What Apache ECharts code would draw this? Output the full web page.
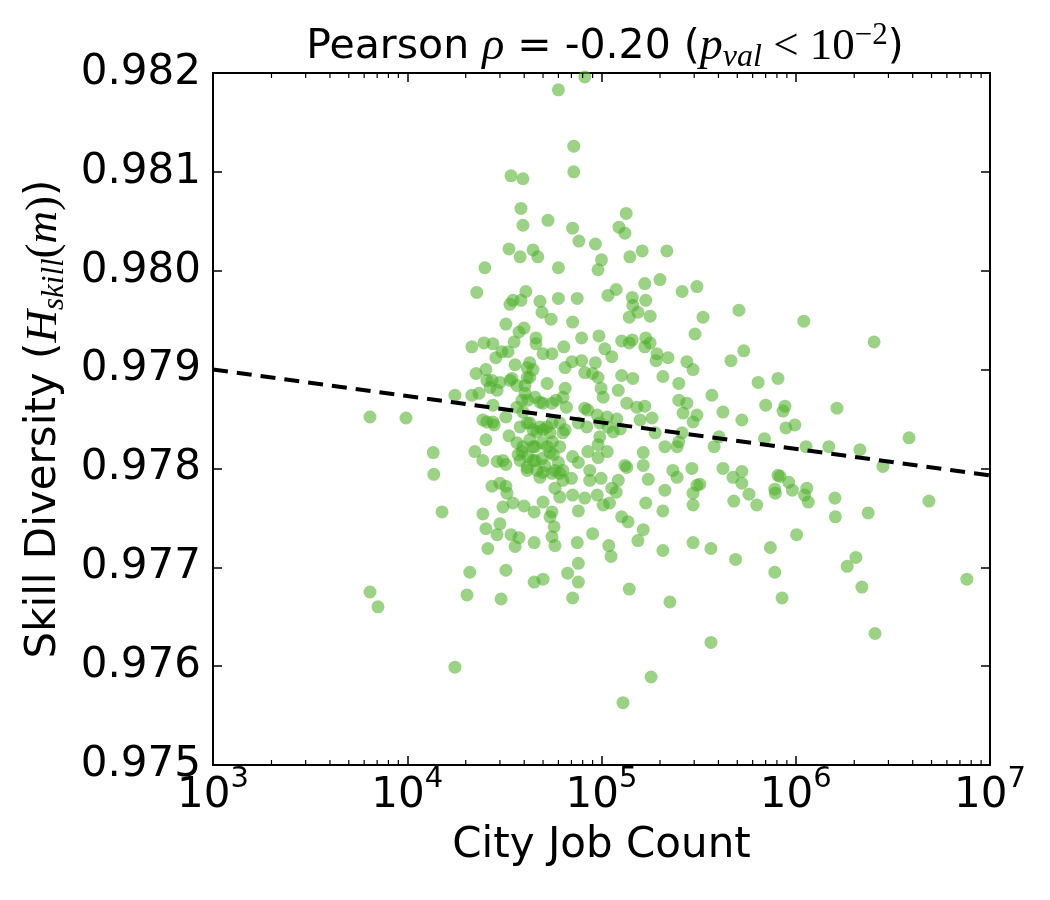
<!DOCTYPE html>
<html>
<head>
<meta charset="utf-8">
<script src="https://cdn.jsdelivr.net/npm/echarts@6/dist/echarts.min.js"></script>
<style>
html,body{margin:0;padding:0;background:#fff}
#main{width:1050px;height:900px}
</style>
</head>
<body>
<div id="main"></div>
<script>
// city job counts and skill diversity
var jobCount = [
  8.2e4,6.0e4,7.2e4,7.2e4,5.3e4,7.1e4,7.65e4,9.3e4,1.34e5,1.23e5,1.32e5,1.62e5,1.4e5,2.17e5,4.44e4,4.7e4,6.0e4,1.0e5,9.6e4,1.67e5,
  2.0e5,2.6e5,3.1e5,1.19e5,1.08e5,1.44e5,1.45e5,1.69e5,6.0e4,7.5e4,4.82e4,4.94e4,5.5e4,1.39e5,1.54e5,1.78e5,7.1e4,3.03e5,4.6e4,4.6e4,
  7.9e4,9.7e4,6.4e4,1.27e5,1.39e5,1.44e5,1.69e5,1.78e5,1.67e5,1.04e5,1.13e5,1.93e5,2.2e5,1.91e5,2.75e5,2.96e5,5.0e4,5.56e4,7.05e4,6.5e4,
  7.9e4,9.3e4,8.2e4,9.0e4,9.6e4,1.27e5,1.45e5,2.07e5,2.5e5,5.25e4,6.5e4,9.95e4,1.22e5,3.42e4,3.94e4,3.85e4,3.94e4,3.34e4,3.81e4,2.51e4,
  2.28e4,3.5e4,3.38e4,3.85e4,4.08e4,3.22e4,3.76e4,3.99e4,2.15e4,2.48e4,2.76e4,3.07e4,3.3e4,3.55e4,2.86e4,2.26e4,2.54e4,2.73e4,3.0e4,2.9e4,
  3.59e4,3.46e4,4.14e4,4.14e4,4.04e4,1.76e4,2.15e4,2.34e4,6.43e3,9.85e3,2.76e4,2.57e4,2.76e4,3.22e4,3.67e4,3.9e4,3.94e4,2.54e4,3.34e4,3.67e4,
  3.9e4,2.23e4,2.45e4,2.9e4,3.11e4,3.22e4,3.81e4,4.14e4,1.36e4,1.37e4,1.51e4,2.73e4,3.0e4,3.22e4,3.26e4,3.5e4,3.11e4,3.99e4,2.45e4,2.54e4,
  2.9e4,3.0e4,3.42e4,3.76e4,3.59e4,2.6e4,2.1e4,3.22e4,6.43e3,7.07e3,2.03e4,3.04e4,1.76e4,6.33e4,6.6e4,1.02e5,1.35e5,1.52e5,1.67e5,1.58e5,
  1.82e5,2.5e5,2.75e5,2.63e5,2.96e5,3.1e5,8.2e4,8.5e4,9.5e4,1.07e5,1.2e5,7.6e4,8.4e4,9.8e4,1.08e5,1.15e5,1.25e5,9.8e4,9.6e4,1.07e5,
  1.89e5,2.12e5,2.45e5,2.5e5,2.6e5,4.27e4,4.65e4,5.0e4,5.56e4,5.43e4,6.33e4,4.44e4,4.94e4,5.43e4,6.1e4,4.44e4,5.0e4,5.56e4,6.33e4,7.1e4,
  7.6e4,8.5e4,9.6e4,8.7e4,8.7e4,9.95e4,1.13e5,1.22e5,1.19e5,1.32e5,1.35e5,1.64e5,1.64e5,1.74e5,2.12e5,2.07e5,1.69e5,2.33e5,2.45e5,2.92e5,
  2.96e5,3.1e5,2.96e5,5.76e4,6.1e4,7.1e4,8.2e4,9.5e4,1.02e5,1.1e5,6.33e4,7.0e4,5.76e4,5.0e4,4.5e4,5.56e4,5.43e4,5.7e4,5.56e4,5.76e4,
  7.6e4,1.27e5,1.37e5,1.64e5,1.54e5,9.0e4,7.5e4,1.09e5,1.12e5,4.5e4,2.07e5,2.96e5,7.6e4,6.7e4,7.6e4,7.1e4,4.5e4,5.0e4,1.39e5,2.25e5,
  1.8e5,1.29e5,5.1e5,3.33e5,1.1e6,2.53e6,5.4e5,4.64e5,6.4e5,8.1e5,3.7e5,7.0e5,8.8e5,8.6e5,1.63e6,4.22e5,5.28e5,8.9e5,9.9e5,4.03e5,
  3.8e5,6.9e5,1.13e6,1.48e6,2.14e6,3.83e6,2.81e6,4.22e5,5.28e5,4.75e5,5.28e5,3.21e5,8.1e5,8.3e5,9.2e5,9.6e5,7.8e5,7.85e5,1.14e6,1.11e6,
  1.16e6,5.74e5,6.3e5,4.8e5,1.59e6,1.6e6,2.36e6,4.85e6,3.66e5,4.9e5,7.4e5,1.01e6,7.8e5,8.5e5,2.04e6,1.84e6,2.19e6,7.6e6,2.56e6,3.66e5,
  4.27e4,4.44e4,4.27e4,4.04e4,3.67e4,3.38e4,2.57e4,2.67e4,5.83e4,5.56e4,5.0e4,4.18e4,4.55e4,4.82e4,2.45e4,2.8e4,3.81e4,4.14e4,4.44e4,4.82e4,
  5.25e4,6.1e4,6.5e4,3.94e4,4.27e4,4.55e4,5.25e4,5.6e4,3.72e4,4.18e4,4.55e4,4.94e4,5.1e4,5.65e4,6.0e4,4.14e4,4.65e4,4.82e4,6.1e4
];
var skillDiversity = [
  0.98196,0.98183,0.98126,0.98100,0.98051,0.98043,0.98030,0.98027,0.98058,0.98044,0.98038,0.98020,0.98014,0.98020,0.98021,0.98014,0.98003,0.98011,0.98001,0.97987,
  0.97991,0.97979,0.97984,0.97981,0.97975,0.97973,0.97965,0.97970,0.97972,0.97972,0.97969,0.97958,0.97951,0.97953,0.97958,0.97954,0.97948,0.97936,0.97932,0.97926,
  0.97932,0.97934,0.97923,0.97929,0.97927,0.97930,0.97932,0.97927,0.97923,0.97921,0.97913,0.97916,0.97912,0.97909,0.97908,0.97900,0.97916,0.97916,0.97908,0.97902,
  0.97909,0.97907,0.97897,0.97896,0.97892,0.97894,0.97891,0.97893,0.97886,0.97886,0.97881,0.97881,0.97879,0.98096,0.98093,0.98063,0.98046,0.98022,0.98014,0.98003,
  0.97978,0.97970,0.97966,0.97970,0.97979,0.97946,0.97938,0.97942,0.97923,0.97927,0.97926,0.97918,0.97918,0.97928,0.97912,0.97896,0.97900,0.97889,0.97887,0.97879,
  0.97905,0.97891,0.97902,0.97892,0.97884,0.97874,0.97874,0.97876,0.97852,0.97851,0.97864,0.97847,0.97847,0.97852,0.97862,0.97869,0.97857,0.97829,0.97833,0.97826,
  0.97817,0.97817,0.97808,0.97807,0.97808,0.97804,0.97808,0.97801,0.97816,0.97794,0.97756,0.97782,0.97785,0.97782,0.97775,0.97765,0.97761,0.97762,0.97754,0.97739,
  0.97733,0.97744,0.97733,0.97730,0.97721,0.97719,0.97695,0.97697,0.97675,0.97660,0.97672,0.97668,0.97599,0.97872,0.97862,0.97872,0.97866,0.97862,0.97863,0.97849,
  0.97851,0.97869,0.97866,0.97856,0.97847,0.97854,0.97861,0.97859,0.97854,0.97852,0.97850,0.97846,0.97842,0.97846,0.97842,0.97837,0.97840,0.97832,0.97824,0.97817,
  0.97836,0.97822,0.97822,0.97827,0.97836,0.97846,0.97837,0.97839,0.97846,0.97836,0.97836,0.97822,0.97826,0.97816,0.97822,0.97808,0.97796,0.97795,0.97798,0.97812,
  0.97806,0.97817,0.97811,0.97798,0.97788,0.97790,0.97780,0.97788,0.97776,0.97803,0.97801,0.97816,0.97803,0.97789,0.97778,0.97757,0.97765,0.97798,0.97791,0.97800,
  0.97775,0.97783,0.97763,0.97780,0.97771,0.97773,0.97770,0.97773,0.97763,0.97765,0.97788,0.97790,0.97798,0.97766,0.97756,0.97756,0.97751,0.97741,0.97731,0.97722,
  0.97757,0.97751,0.97746,0.97738,0.97727,0.97734,0.97725,0.97722,0.97711,0.97725,0.97717,0.97725,0.97704,0.97694,0.97685,0.97669,0.97685,0.97688,0.97678,0.97665,
  0.97589,0.97563,0.97960,0.97953,0.97949,0.97928,0.97919,0.97909,0.97887,0.97891,0.97874,0.97864,0.97863,0.97858,0.97861,0.97857,0.97849,0.97841,0.97844,0.97832,
  0.97822,0.97830,0.97822,0.97822,0.97819,0.97831,0.97802,0.97800,0.97797,0.97791,0.97785,0.97784,0.97793,0.97792,0.97786,0.97778,0.97779,0.97775,0.97780,0.97773,
  0.97766,0.97774,0.97763,0.97767,0.97770,0.97751,0.97755,0.97767,0.97719,0.97708,0.97720,0.97733,0.97695,0.97669,0.97710,0.97701,0.97680,0.97688,0.97633,0.97624,
  0.97907,0.97900,0.97892,0.97876,0.97884,0.97889,0.97889,0.97882,0.97869,0.97866,0.97866,0.97869,0.97872,0.97867,0.97849,0.97844,0.97842,0.97846,0.97839,0.97842,
  0.97842,0.97846,0.97839,0.97822,0.97829,0.97822,0.97822,0.97827,0.97814,0.97812,0.97808,0.97810,0.97803,0.97814,0.97806,0.97798,0.97798,0.97791,0.97795
];
// fitted trend (dashed)
var trendX = [1e3, 1e7];
var trendY = [0.97900, 0.97793];
// minor ticks of the log axis
var minorTicks = [2e3,3e3,4e3,5e3,6e3,7e3,8e3,9e3, 2e4,3e4,4e4,5e4,6e4,7e4,8e4,9e4,
                  2e5,3e5,4e5,5e5,6e5,7e5,8e5,9e5, 2e6,3e6,4e6,5e6,6e6,7e6,8e6,9e6];
var yMin = 0.975, yMax = 0.982, yStep = 0.001;

var points = [];
for (var i = 0; i < jobCount.length; i++) {
  points.push([jobCount[i], skillDiversity[i]]);
}
var trend = [];
for (var j = 0; j < trendX.length; j++) {
  trend.push([trendX[j], trendY[j]]);
}

var sans = 'DejaVu Sans';
var serif = 'Liberation Serif';
var tickStyle = {color: '#000', width: 1.5};

var chart = echarts.init(document.getElementById('main'));

var option = {
  animation: false,
  backgroundColor: '#fff',
  title: {
    text: '{n|Pearson }{m|ρ}{n| = -0.20 (}{m|p}{sub|val}{r| < 10}{sup|−2}{n|)}',
    left: 600,
    textAlign: 'center',
    top: 15,
    textStyle: {
      fontWeight: 'normal',
      rich: {
        n: {fontFamily: sans, fontWeight: 'normal', fontSize: 41, color: '#000', lineHeight: 54, verticalAlign: 'middle'},
        m: {fontFamily: serif, fontWeight: 'normal', fontStyle: 'italic', fontSize: 46, color: '#000', lineHeight: 54, verticalAlign: 'middle'},
        r: {fontFamily: serif, fontWeight: 'normal', fontSize: 45, color: '#000', lineHeight: 54, verticalAlign: 'middle'},
        sub: {fontFamily: serif, fontWeight: 'normal', fontStyle: 'italic', fontSize: 32, color: '#000', lineHeight: 30, verticalAlign: 'bottom'},
        sup: {fontFamily: serif, fontWeight: 'normal', fontSize: 31, color: '#000', lineHeight: 30, verticalAlign: 'top'}
      }
    }
  },
  grid: {left: 213, right: 60, top: 73, bottom: 135},
  xAxis: [{
    type: 'log',
    logBase: 10,
    min: 1e3,
    max: 1e7,
    position: 'bottom',
    axisLine: {show: true, onZero: false, lineStyle: {color: '#000', width: 2}},
    axisTick: {inside: true, length: 9, lineStyle: tickStyle},
    splitLine: {show: false},
    axisLabel: {
      margin: 0,
      formatter: function (v) {
        return '{b|10}{s|' + Math.round(Math.log10(v)) + '}';
      },
      rich: {
        b: {fontFamily: sans, fontSize: 42, color: '#000', lineHeight: 52, verticalAlign: 'bottom'},
        s: {fontFamily: sans, fontSize: 29, color: '#000', lineHeight: 28, verticalAlign: 'top'}
      }
    },
    name: 'City Job Count',
    nameLocation: 'middle',
    nameGap: 60,
    nameTextStyle: {fontFamily: sans, fontSize: 42, color: '#000'}
  }, {
    type: 'log',
    logBase: 10,
    min: 1e3,
    max: 1e7,
    position: 'top',
    axisLine: {show: true, onZero: false, lineStyle: {color: '#000', width: 2}},
    axisTick: {inside: true, length: 9, lineStyle: tickStyle},
    axisLabel: {show: false},
    splitLine: {show: false}
  }],
  yAxis: [{
    type: 'value',
    min: yMin,
    max: yMax,
    interval: yStep,
    position: 'left',
    axisLine: {show: true, onZero: false, lineStyle: {color: '#000', width: 2}},
    axisTick: {inside: true, length: 9, lineStyle: tickStyle},
    splitLine: {show: false},
    axisLabel: {
      margin: 12,
      fontFamily: sans,
      fontSize: 42,
      color: '#000',
      formatter: function (v) { return v.toFixed(3); }
    },
    name: '{n|Skill Diversity (}{m|H}{sub|skill}{r|(}{m|m}{r|)}{n|)}',
    nameLocation: 'middle',
    nameRotate: 90,
    nameGap: 136,
    nameTextStyle: {
      rich: {
        n: {fontFamily: sans, fontSize: 42, color: '#000', lineHeight: 52, verticalAlign: 'middle'},
        m: {fontFamily: serif, fontStyle: 'italic', fontSize: 45, color: '#000', lineHeight: 52, verticalAlign: 'middle'},
        r: {fontFamily: serif, fontSize: 45, color: '#000', lineHeight: 52, verticalAlign: 'middle'},
        sub: {fontFamily: serif, fontStyle: 'italic', fontSize: 31, color: '#000', lineHeight: 29, verticalAlign: 'bottom'}
      }
    }
  }, {
    type: 'value',
    min: yMin,
    max: yMax,
    interval: yStep,
    position: 'right',
    axisLine: {show: true, onZero: false, lineStyle: {color: '#000', width: 2}},
    axisTick: {inside: true, length: 9, lineStyle: tickStyle},
    axisLabel: {show: false},
    splitLine: {show: false}
  }],
  series: [{
    type: 'scatter',
    xAxisIndex: 0,
    yAxisIndex: 0,
    data: points,
    symbolSize: 13,
    itemStyle: {color: 'rgba(77,175,39,0.7)', borderWidth: 0},
    z: 2
  }, {
    type: 'line',
    xAxisIndex: 0,
    yAxisIndex: 0,
    data: trend,
    showSymbol: false,
    symbol: 'none',
    lineStyle: {color: '#000', width: 4, type: [15, 9]},
    z: 3
  }, {
    // minor ticks on bottom and top edges
    type: 'custom',
    xAxisIndex: 0,
    yAxisIndex: 0,
    silent: true,
    data: minorTicks.map(function (v) { return [v]; }),
    encode: {x: 0},
    renderItem: function (params, api) {
      var b = api.coord([api.value(0), yMin]);
      var t = api.coord([api.value(0), yMax]);
      return {
        type: 'group',
        children: [
          {type: 'line', shape: {x1: b[0], y1: b[1], x2: b[0], y2: b[1] - 5}, style: {stroke: '#000', lineWidth: 1.2}},
          {type: 'line', shape: {x1: t[0], y1: t[1], x2: t[0], y2: t[1] + 5}, style: {stroke: '#000', lineWidth: 1.2}}
        ]
      };
    },
    z: 4
  }]
};

chart.setOption(option);
</script>
</body>
</html>
